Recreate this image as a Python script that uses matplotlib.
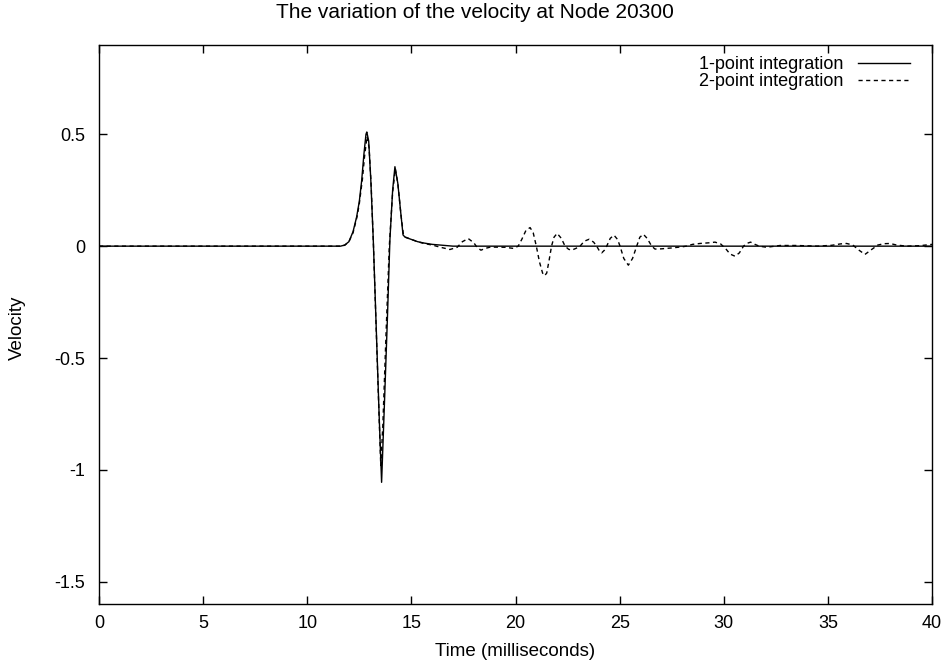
import matplotlib
matplotlib.use("Agg")
import matplotlib.pyplot as plt

plt.rcParams['font.family'] = ['Liberation Sans', 'DejaVu Sans']
plt.rcParams['axes.unicode_minus'] = False

title = "The variation of the velocity at Node 20300"
xlabel = "Time (milliseconds)"
ylabel = "Velocity"
label1 = "1-point integration"
label2 = "2-point integration"

xticks = [0, 5, 10, 15, 20, 25, 30, 35, 40]
yticks = [-1.5, -1, -0.5, 0, 0.5]
ytick_labels = ["-1.5", "-1", "-0.5", "0", "0.5"]

# 1-point integration (solid)
t1 = [0, 11.6, 11.8, 12.0, 12.2, 12.37, 12.5, 12.61, 12.72, 12.82, 12.86, 12.95, 13.05,
      13.17, 13.3, 13.45, 13.57, 13.7, 13.85, 13.97, 14.1, 14.21, 14.35, 14.5, 14.6,
      14.7, 15.0, 15.3, 15.6, 16.0, 16.5, 17.0, 40]
v1 = [0, 0, 0.005, 0.02, 0.065, 0.13, 0.2, 0.29, 0.41, 0.50, 0.51, 0.47, 0.30,
      0.03, -0.33, -0.75, -1.055, -0.72, -0.32, 0.03, 0.25, 0.355, 0.28, 0.14, 0.05,
      0.04, 0.03, 0.02, 0.014, 0.008, 0.004, 0.0, 0.0]

# 2-point integration (dashed)
t2 = [0, 11.6, 11.8, 12.0, 12.2, 12.4, 12.5, 12.65, 12.75, 12.87, 12.97, 13.07, 13.18,
      13.3, 13.42, 13.53, 13.63, 13.78, 13.94, 14.1, 14.23, 14.35, 14.5, 14.62, 14.72,
      15.0, 15.3, 15.6, 16.0, 16.4, 16.85, 17.2, 17.45, 17.73, 18.0, 18.15, 18.34,
      18.55, 18.8, 19.5, 19.9, 20.13, 20.3, 20.5, 20.7, 20.85, 21.0, 21.15, 21.3,
      21.4, 21.5, 21.62, 21.73, 21.85, 22.0, 22.2, 22.38, 22.55, 22.7, 22.9, 23.1,
      23.3, 23.54, 23.75, 23.9, 24.02, 24.14, 24.27, 24.38, 24.55, 24.73, 24.9, 25.02,
      25.2, 25.42, 25.62, 25.82, 25.97, 26.14, 26.32, 26.54, 26.7, 27.0, 27.5, 28.0,
      28.2, 28.5, 28.86, 29.3, 29.58, 29.85, 30.1, 30.3, 30.54, 30.75, 30.95, 31.1,
      31.29, 31.5, 31.7, 32.06, 32.7, 33.5, 34.5, 35.2, 35.6, 35.9, 36.2, 36.45,
      36.78, 37.1, 37.4, 37.7, 37.98, 38.3, 38.78, 39.4, 40]
v2 = [0, 0, 0.004, 0.02, 0.06, 0.135, 0.19, 0.30, 0.40, 0.49, 0.44, 0.27, 0.0,
      -0.34, -0.68, -0.98, -0.80, -0.40, 0.0, 0.24, 0.345, 0.28, 0.14, 0.05, 0.04,
      0.03, 0.02, 0.012, 0.005, -0.005, -0.015, -0.005, 0.02, 0.034, 0.015, -0.005, -0.018,
      -0.01, -0.004, -0.005, -0.01, 0.0, 0.03, 0.07, 0.083, 0.06, 0.0, -0.07, -0.12,
      -0.132, -0.12, -0.06, 0.0, 0.04, 0.057, 0.035, 0.0, -0.014, -0.018, -0.01, 0.0,
      0.022, 0.031, 0.018, 0.0, -0.02, -0.03, -0.018, 0.0, 0.035, 0.049, 0.03, 0.0,
      -0.055, -0.085, -0.055, 0.0, 0.04, 0.053, 0.035, 0.0, -0.013, -0.012, -0.008, -0.003,
      0.0, 0.008, 0.012, 0.015, 0.018, 0.01, -0.012, -0.035, -0.045, -0.03, 0.0, 0.012,
      0.018, 0.008, 0.0, -0.005, 0.003, 0.003, 0.0, 0.004, 0.01, 0.012, 0.005, -0.015,
      -0.037, -0.015, 0.005, 0.011, 0.012, 0.005, 0.0, 0.002, 0.008]

W, H = 950, 666
fig = plt.figure(figsize=(9.5, 6.66), dpi=100)
ax = fig.add_axes([99/W, 1 - 604.3/H, (932-99)/W, (604.3-44.7)/H])

ax.plot(t1, v1, color='black', lw=1.0, label=label1)
ax.plot(t2, v2, color='black', lw=1.0, dashes=(3, 2.5), label=label2)

ax.set_xlim(0, 40)
ax.set_ylim(-1.6, 0.9)
ax.set_xticks(xticks)
ax.set_xticklabels([str(x) for x in xticks])
ax.set_yticks(yticks)
ax.set_yticklabels(ytick_labels)
ax.tick_params(direction='in', length=6, width=1, top=True, right=True,
               labelsize=13)
ax.tick_params(axis='y', pad=10)
ax.tick_params(axis='x', pad=8)
for s in ax.spines.values():
    s.set_linewidth(1.0)

fig.text(0.5, 1 - 13/H, title, ha='center', va='center', fontsize=15)
fig.text(515/W, 1 - 652/H, xlabel, ha='center', va='center', fontsize=13.5)
fig.text(17/W, 1 - 328/H, ylabel, ha='center', va='center', fontsize=13.5,
         rotation=90)

ax.legend(loc='upper right', bbox_to_anchor=((910-99)/833, 0.98),
          frameon=False, markerfirst=False, fontsize=13,
          handlelength=2.9, handletextpad=0.8, labelspacing=0.0,
          borderaxespad=0.0, borderpad=0.0)

fig.savefig("out.png", dpi=100)
